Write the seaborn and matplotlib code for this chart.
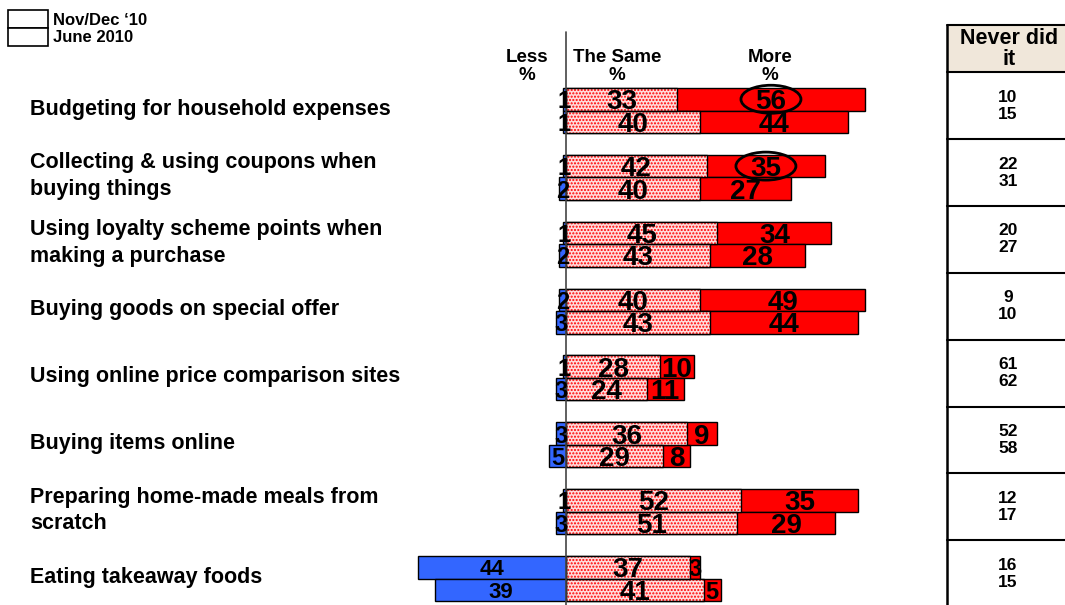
import matplotlib
matplotlib.use("Agg")
import matplotlib.pyplot as plt
from matplotlib.patches import Rectangle, Ellipse
import pandas as pd
import seaborn as sns

# ---- data -------------------------------------------------------------
categories = [
    "Budgeting for household expenses",
    "Collecting & using coupons when\nbuying things",
    "Using loyalty scheme points when\nmaking a purchase",
    "Buying goods on special offer",
    "Using online price comparison sites",
    "Buying items online",
    "Preparing home-made meals from\nscratch",
    "Eating takeaway foods",
]
waves = ["Nov/Dec \u201810", "June 2010"]

less_nov = [1, 1, 1, 2, 1, 3, 1, 44]
less_jun = [1, 2, 2, 3, 3, 5, 3, 39]
same_nov = [33, 42, 45, 40, 28, 36, 52, 37]
same_jun = [40, 40, 43, 43, 24, 29, 51, 41]
more_nov = [56, 35, 34, 49, 10, 9, 35, 3]
more_jun = [44, 27, 28, 44, 11, 8, 29, 5]
never_nov = [10, 22, 20, 9, 61, 52, 12, 16]
never_jun = [15, 31, 27, 10, 62, 58, 17, 15]

column_heads = ["Less", "The Same", "More"]
never_head = ["Never did", "it"]
# (category index, wave index) of the "More" values that are circled
circled = [(0, 0), (1, 0)]

# ---- style ------------------------------------------------------------
sns.set_theme(style="white")
plt.rcParams["font.family"] = ["Liberation Sans", "DejaVu Sans"]
plt.rcParams["font.weight"] = "bold"
plt.rcParams["text.color"] = "black"
plt.rcParams["hatch.linewidth"] = 1.0

RED = "#ff0000"
BLUE = "#3366ff"
PINK = "#ffdcdc"
HEAD_BG = "#f0e7da"
NARROW = ["Liberation Sans Narrow", "Liberation Sans", "DejaVu Sans"]

rows = []
for i, c in enumerate(categories):
    for w, (ls, sm, mo) in zip(waves, [(less_nov, same_nov, more_nov),
                                        (less_jun, same_jun, more_jun)]):
        rows.append(dict(category=c, wave=w, less=ls[i], same=sm[i], more=mo[i]))
df = pd.DataFrame(rows)
df["total"] = df["same"] + df["more"]
df["neg_less"] = -df["less"]

fig = plt.figure(figsize=(10.65, 6.05), dpi=100)
ax = fig.add_axes([0, 0, 1, 1])

# page layout: pixels -> data units
ZERO_PX, UNIT_PX = 566.0, 3.36
ROW0_PX, ROW_PX = 110.5, 66.86
FIG_W, FIG_H = 1065, 605


def gx(px):
    return (px - ZERO_PX) / UNIT_PX


def gy(py):
    return (py - ROW0_PX) / ROW_PX


BAR_W = 0.673
common = dict(data=df, y="category", hue="wave", order=categories,
              hue_order=waves, orient="h", width=BAR_W, gap=0, dodge=True,
              errorbar=None, legend=False, saturation=1, ax=ax)

# "More" segment: full length bar, later covered by the "Same" part
sns.barplot(x="total", palette=[RED, RED], edgecolor="black", linewidth=1,
            **common)
# "Same" segment, dotted fill
n0 = len(ax.patches)
sns.barplot(x="same", palette=[PINK, PINK], edgecolor=RED, linewidth=0,
            **common)
same_patches = ax.patches[n0:]
for p in same_patches:
    p.set_hatch(".....")
sns.barplot(x="same", palette=["black", "black"], fill=False, linewidth=1,
            **common)
# "Less" segment to the left of zero
sns.barplot(x="neg_less", palette=[BLUE, BLUE], edgecolor="black",
            linewidth=1, **common)


def value_label(x, y, v, big, small):
    if v >= 8:
        ax.text(x, y, f"{v}", ha="center", va="center_baseline",
                fontsize=big, fontweight="bold", zorder=8)
    else:
        ax.text(x, y, f"{v}", ha="center", va="center_baseline",
                fontsize=small, fontweight="bold", family=NARROW, zorder=8)


# value labels
ncat = len(categories)
for j, w in enumerate(waves):
    sub = df[df["wave"] == w].reset_index(drop=True)
    for i in range(ncat):
        p = same_patches[j * ncat + i]
        yc = p.get_y() + p.get_height() / 2
        s, m, l = sub.loc[i, "same"], sub.loc[i, "more"], sub.loc[i, "less"]
        value_label(s / 2, yc, s, 20, 20)
        value_label(s + m / 2, yc, m, 20, 17)
        value_label(-l / 2, yc, l, 16, 17)
        if (i, j) in circled:
            ax.add_patch(Ellipse((s + m / 2, yc), width=60 / UNIT_PX,
                                 height=28 / ROW_PX, fill=False,
                                 edgecolor="black", linewidth=2, zorder=9))

# zero line
ax.plot([0, 0], [gy(32), gy(FIG_H)], color="#444444", lw=1.2, zorder=7)

# category labels
for i, c in enumerate(categories):
    ax.text(gx(30), i - 0.02, c, ha="left", va="center", fontsize=15.5,
            fontweight="bold", linespacing=1.35)

# column headings
for name, px in zip(column_heads, [527, 617, 770]):
    ax.text(gx(px), gy(57), name, ha="center", va="center", fontsize=13.5,
            fontweight="bold")
    ax.text(gx(px), gy(75), "%", ha="center", va="center", fontsize=13.5,
            fontweight="bold")

# legend boxes
for k, w in enumerate(waves):
    top = 10 + 18 * k
    ax.add_patch(Rectangle((gx(8), gy(top)), 40 / UNIT_PX, 18 / ROW_PX,
                           facecolor="white", edgecolor="black", lw=1.2))
    ax.text(gx(53), gy(top + 10 - k), w, ha="left", va="center", fontsize=12,
            fontweight="bold")

# "Never did it" table
tx0 = gx(947)
tx1 = gx(FIG_W + 10)
ax.add_patch(Rectangle((tx0, gy(25)), tx1 - tx0, gy(72) - gy(25),
                       facecolor=HEAD_BG, edgecolor="none", zorder=1))
ax.plot([tx0, tx0], [gy(25), gy(FIG_H + 5)], color="black", lw=1.8)
for yy in [gy(25), gy(72)] + [i + 0.428 for i in range(ncat)]:
    ax.plot([tx0, tx1], [yy, yy], color="black", lw=1.5)
tcx = gx(1009)
ax.text(tcx, gy(38), never_head[0], ha="center", va="center", fontsize=15.5,
        fontweight="bold")
ax.text(tcx, gy(59), never_head[1], ha="center", va="center", fontsize=15.5,
        fontweight="bold")
for i in range(ncat):
    yc = i - 0.072
    ax.text(gx(1008), yc - 0.127, f"{never_nov[i]}", ha="center",
            va="center", fontsize=12.5, fontweight="bold")
    ax.text(gx(1008), yc + 0.127, f"{never_jun[i]}", ha="center",
            va="center", fontsize=12.5, fontweight="bold")

ax.set_xlim(gx(0), gx(FIG_W))
ax.set_ylim(gy(FIG_H), gy(0))
ax.set_axis_off()

fig.savefig("out.png", dpi=100)
